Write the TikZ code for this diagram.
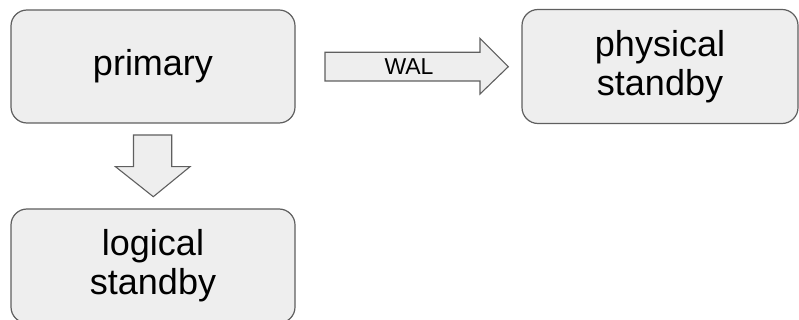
\documentclass[tikz,border=0pt]{standalone}
\usepackage{fontspec}
\setmainfont{Liberation Sans}
\definecolor{boxfill}{RGB}{238,238,238}
\definecolor{boxline}{RGB}{95,95,95}
\begin{document}
\begin{tikzpicture}[x=1pt,y=-1pt,
  box/.style={draw=boxline, fill=boxfill, line width=1.2pt, rounded corners=16pt,
    align=center, inner sep=0pt, font=\fontsize{36}{39}\selectfont},
  blockarrow/.style={draw=boxline, fill=boxfill, line width=1.1pt, line join=miter}]
\useasboundingbox (0,0) rectangle (799,320);
\clip (0,0) rectangle (799,320);
\node[box, minimum width=284pt, minimum height=113pt] (primary) at (153,66.5) {primary};
\node[box, minimum width=276pt, minimum height=114pt] (physical) at (660,66.5) {physical\\standby};
\node[box, minimum width=284pt, minimum height=114pt] (logical) at (153,266) {logical\\standby};
% WAL block arrow
\draw[blockarrow] (325,52.3) -- (480,52.3) -- (480,38.3) -- (508.3,66.7) -- (480,94) -- (480,81) -- (325,81) -- cycle;
\node[font=\fontsize{23}{23}\selectfont, inner sep=0pt] (wal) at (409,67) {WAL};
% down block arrow
\draw[blockarrow] (133.5,135) -- (171.7,135) -- (171.7,166.7) -- (190,166.7) -- (153.3,196.7) -- (115.5,166.7) -- (133.5,166.7) -- cycle;
\end{tikzpicture}
\end{document}
